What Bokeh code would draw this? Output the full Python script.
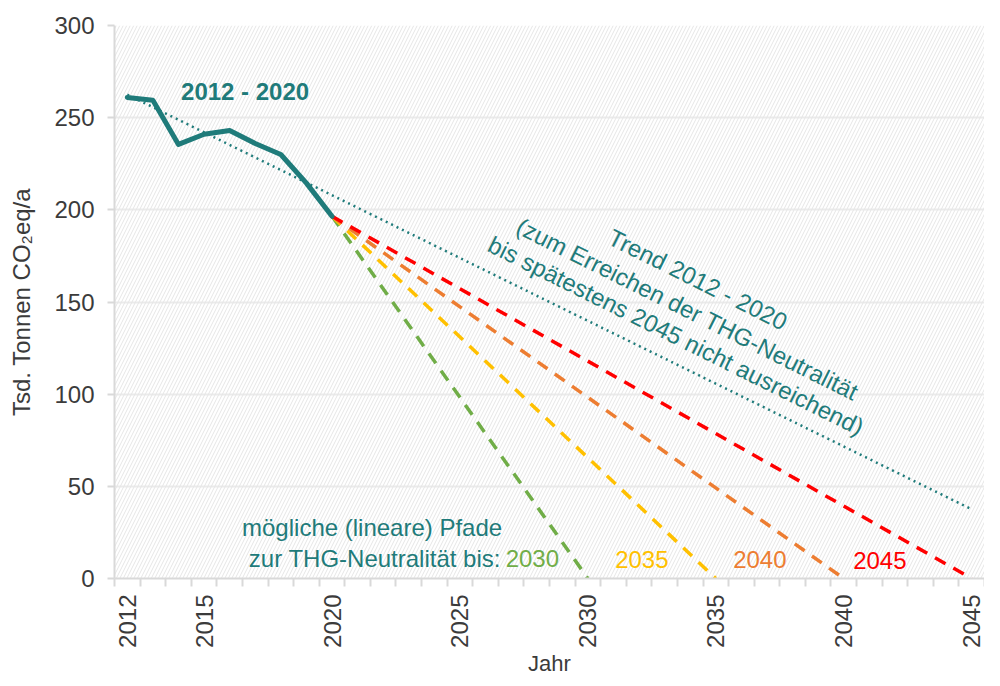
import math
import numpy as np
from bokeh.plotting import figure
from bokeh.models import Range1d, FixedTicker, Label, BoxAnnotation
from bokeh.embed import file_html
from bokeh.resources import INLINE

# ---- data ----
years = [2012, 2013, 2014, 2015, 2016, 2017, 2018, 2019, 2020]
emissions = [261.0, 259.5, 235.5, 241.0, 243.0, 236.0, 230.0, 214.5, 196.5]
target_years = [2030, 2035, 2040, 2045]
target_labels = ["2030", "2035", "2040", "2045"]
path_colors = ["#70ad47", "#ffc000", "#ed7d31", "#ff0000"]
trend_end_year = 2045
x_tick_years = [2012, 2015, 2020, 2025, 2030, 2035, 2040, 2045]
all_years = list(range(2011, 2046))
y_ticks = [0, 50, 100, 150, 200, 250, 300]

TEAL = "#1f7b7a"
FONT = "Liberation Sans"
GRAY = "#d9d9d9"
TXT = "#3b3b3b"

p = figure(width=984, height=678,
           x_range=Range1d(2011.5, 2045.5), y_range=Range1d(0, 300),
           output_backend="svg", toolbar_location=None,
           min_border_left=114, min_border_right=0,
           min_border_top=25, min_border_bottom=90)
p.outline_line_color = None
p.background_fill_color = "white"

# hatched plot background
p.add_layout(BoxAnnotation(fill_color=None, line_color=None,
                           hatch_pattern="/", hatch_color="#e6e6e6",
                           hatch_scale=7, hatch_weight=1, level="underlay"))

# axes
xa = p.xaxis[0]
xa.ticker = FixedTicker(ticks=x_tick_years, minor_ticks=[y + 0.5 for y in all_years])
xa.major_tick_out = 0
xa.major_tick_in = 0
xa.minor_tick_out = 8
xa.minor_tick_in = 0
xa.minor_tick_line_color = GRAY
xa.minor_tick_line_width = 2
xa.axis_line_color = GRAY
xa.axis_line_width = 2
xa.major_label_orientation = math.pi / 2
xa.major_label_standoff = 8
xa.major_label_text_font = FONT
xa.major_label_text_font_size = "24px"
xa.major_label_text_color = TXT
xa.axis_label = "Jahr"
xa.axis_label_text_font = FONT
xa.axis_label_text_font_size = "22px"
xa.axis_label_text_font_style = "normal"
xa.axis_label_text_color = TXT
xa.axis_label_standoff = 0

ya = p.yaxis[0]
ya.ticker = FixedTicker(ticks=y_ticks, minor_ticks=[])
ya.major_tick_out = 7
ya.major_tick_in = 0
ya.major_tick_line_color = GRAY
ya.major_tick_line_width = 2
ya.minor_tick_line_color = None
ya.axis_line_color = GRAY
ya.axis_line_width = 2
ya.major_label_standoff = 13
ya.major_label_text_font = FONT
ya.major_label_text_font_size = "24px"
ya.major_label_text_color = TXT
ya.axis_label = "Tsd. Tonnen CO\u2082eq/a"
ya.axis_label_text_font = FONT
ya.axis_label_text_font_size = "24px"
ya.axis_label_text_font_style = "normal"
ya.axis_label_text_color = TXT
ya.axis_label_standoff = 16

p.xgrid.grid_line_color = None
p.ygrid.ticker = FixedTicker(ticks=y_ticks)
p.ygrid.grid_line_color = "#ebebeb"
p.ygrid.grid_line_width = 2

# possible linear paths to neutrality
for t, c in zip(target_years, path_colors):
    p.line([years[-1], t], [emissions[-1], 0], line_color=c, line_width=3.5,
           line_dash="12 9")

# linear trend 2012-2020 extended to 2045
coef = np.polyfit(years, emissions, 1)
trend_x = [years[0], trend_end_year]
trend_y = list(np.polyval(coef, trend_x))
p.line(trend_x, trend_y, line_color=TEAL, line_width=2.5, line_dash="2 4")

# actual emissions
p.line(years, emissions, line_color=TEAL, line_width=5, line_join="round", line_cap="round")

# annotations
p.add_layout(Label(x=2014.1, y=264, text="2012 - 2020", text_font=FONT,
                   text_font_size="24px", text_font_style="bold", text_color=TEAL,
                   text_align="left", text_baseline="middle"))

ang = math.radians(-26.5)
trend_lines = ["Trend 2012 - 2020", "(zum Erreichen der THG-Neutralität",
               "bis spätestens 2045 nicht ausreichend)"]
trend_pos = [(2034.3, 162.2), (2033.9, 146.1), (2033.45, 131.7)]
for txt, (tx, ty) in zip(trend_lines, trend_pos):
    p.add_layout(Label(x=tx, y=ty, text=txt, angle=ang, text_font=FONT,
                       text_font_size="24px", text_color=TEAL,
                       text_align="center", text_baseline="middle"))

p.add_layout(Label(x=2026.65, y=27.5, text="mögliche (lineare) Pfade", text_font=FONT,
                   text_font_size="24px", text_color=TEAL,
                   text_align="right", text_baseline="middle"))
p.add_layout(Label(x=2026.6, y=10.7, text="zur THG-Neutralität bis:", text_font=FONT,
                   text_font_size="24px", text_color=TEAL,
                   text_align="right", text_baseline="middle"))

label_pos = [(2027.83, 10.7), (2032.11, 10.3), (2036.72, 10.3), (2041.41, 9.9)]
for lbl, c, (lx, ly) in zip(target_labels, path_colors, label_pos):
    p.add_layout(Label(x=lx, y=ly, text=lbl, text_font=FONT, text_font_size="24px",
                       text_color=c, text_align="center", text_baseline="middle"))

open("out.html", "w").write(file_html(p, INLINE))
